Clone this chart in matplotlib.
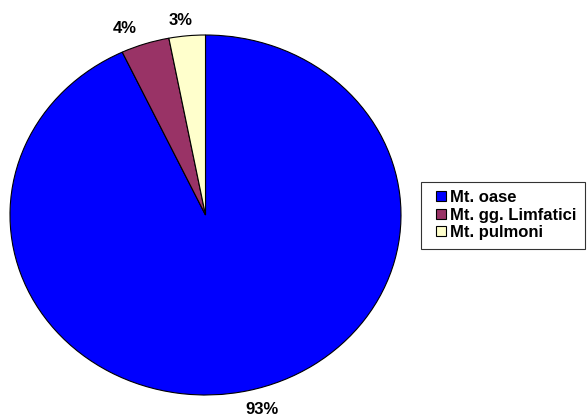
import numpy as np
import matplotlib
matplotlib.use("Agg")
import matplotlib.pyplot as plt
from matplotlib.patches import Patch, Rectangle
from matplotlib.legend_handler import HandlerPatch

categories = ["Mt. oase", "Mt. gg. Limfatici", "Mt. pulmoni"]
values = [93, 4, 3]
colors = ["#0000FF", "#993366", "#FFFFCC"]

plt.rcParams['font.family'] = ['Liberation Sans', 'DejaVu Sans']

W, H = 587, 416
fig = plt.figure(figsize=(W / 100, H / 100), dpi=100)
# ellipse bounding box in pixels: x 10..401, y 35..395
ax = fig.add_axes([10 / W, (H - 395) / H, 391 / W, 360 / H])
wedges, _ = ax.pie(values, colors=colors, startangle=90, counterclock=False,
                   wedgeprops=dict(edgecolor="black", linewidth=0.8))
ax.set_aspect("auto")
ax.set_xlim(-1, 1)
ax.set_ylim(-1, 1)
ax.axis("off")

for w, v in zip(wedges, values):
    mid = np.deg2rad((w.theta1 + w.theta2) / 2)
    cx, cy = np.cos(mid), np.sin(mid)
    ax.annotate(f"{v}%", xy=(cx, cy), xytext=(65 * cx, 17 * np.sign(cy) - 2),
                textcoords="offset pixels", ha="center", va="center",
                fontsize=12, fontweight="bold", color="black",
                annotation_clip=False)


def square_patch(legend, orig_handle, xdescent, ydescent, width, height, fontsize):
    sq = 7.2
    return Rectangle((-xdescent + width - sq, -ydescent + (height - sq) / 2), sq, sq)


handles = [Patch(facecolor=c, edgecolor="black", linewidth=0.8) for c in colors]
leg = fig.legend(handles, categories, loc="upper left",
                 bbox_to_anchor=(421 / W, 1 - 182 / H),
                 frameon=True, fancybox=False, shadow=False,
                 prop=dict(size=12, weight="bold"),
                 handler_map={Patch: HandlerPatch(patch_func=square_patch)},
                 handlelength=1.0, handleheight=0.6, handletextpad=0.24,
                 labelspacing=0.15, borderpad=0.5, borderaxespad=0)
leg.get_frame().set_edgecolor("black")
leg.get_frame().set_linewidth(0.8)

fig.savefig("out.png", dpi=100)
